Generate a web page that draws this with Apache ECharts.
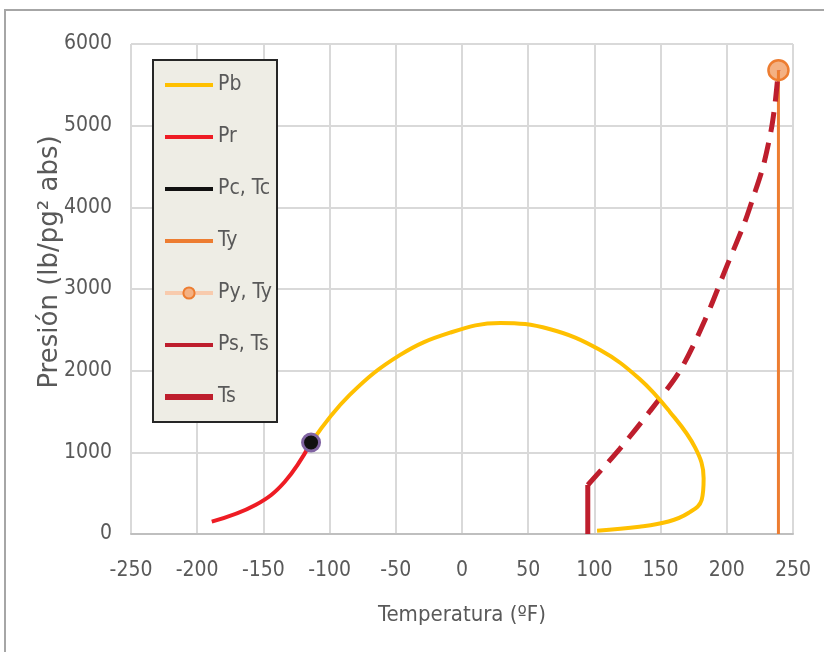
<!DOCTYPE html>
<html>
<head>
<meta charset="utf-8">
<script src="https://cdn.jsdelivr.net/npm/echarts@6/dist/echarts.min.js"></script>
<style>
html, body { margin: 0; padding: 0; background: #fff; }
#chart { width: 824px; height: 652px; }
</style>
</head>
<body>
<div id="chart"></div>
<script>
/*global echarts*/
const xTicks = [-250, -200, -150, -100, -50, 0, 50, 100, 150, 200, 250];
const yTicks = [0, 1000, 2000, 3000, 4000, 5000, 6000];

const legendNames = ['Pb', 'Pr', 'Pc, Tc', 'Ty', 'Py, Ty', 'Ps, Ts', 'Ts'];

// [temperatura, presion]
const pbCurve = [
    [-114, 1120], [-85, 1700], [-47, 2190], [-9, 2465], [29, 2585], [66, 2510],
    [104, 2255], [134, 1900], [157, 1495], [176, 1060], [182.5, 680], [181, 415],
    [171, 257], [156, 153], [134, 89], [102, 40]
];
const prCurve = [[-189, 151], [-156, 355], [-134, 637], [-114, 1120]];
const critPoint = [[-114, 1120]];
const tyLine = [[239, 0], [239, 5680]];
const pyTyPoint = [[239, 5680]];
const psTsCurve = [
    [95, 600], [119, 1040], [142, 1505], [165, 2010], [183.5, 2620], [200, 3280],
    [213, 3795], [220, 4125], [227.5, 4505], [233.5, 4945], [236.5, 5280], [239, 5680]
];
const tsLine = [[95, 0], [95, 600]];

const narrow = '"DejaVu Sans Condensed", "Liberation Sans Narrow", "Liberation Sans", sans-serif';
const gray = '#595959';

const lineIcon = (h) => `path://M0,0H48V${h}H0Z`;

const getXAxisOpt = () => ({
    type: 'value',
    min: xTicks[0],
    max: xTicks[xTicks.length - 1],
    interval: xTicks[1] - xTicks[0],
    name: 'Temperatura (ºF)',
    nameLocation: 'middle',
    nameGap: 70,
    nameTextStyle: { fontFamily: narrow, fontSize: 22, color: gray },
    axisTick: { show: false },
    axisLine: { show: true, lineStyle: { color: '#BFBFBF', width: 2 } },
    axisLabel: { fontFamily: narrow, fontSize: 21, color: gray, margin: 26 },
    splitLine: { show: true, lineStyle: { color: '#D9D9D9', width: 2 } }
});

const getYAxisOpt = () => ({
    type: 'value',
    min: yTicks[0],
    max: yTicks[yTicks.length - 1],
    interval: yTicks[1] - yTicks[0],
    name: 'Presión (lb/pg² abs)',
    nameLocation: 'middle',
    nameGap: 68,
    nameMoveOverlap: false,
    nameTextStyle: {
        fontFamily: '"DejaVu Sans", sans-serif', fontSize: 26, color: gray,
        padding: [0, 0, 0, 54]
    },
    axisTick: { show: false },
    axisLine: { show: false },
    axisLabel: {
        fontFamily: narrow, fontSize: 21, color: gray, margin: 19,
        formatter: (v) => String(v)
    },
    splitLine: { show: true, lineStyle: { color: '#D9D9D9', width: 2 } }
});

const option = {
    animation: false,
    backgroundColor: '#fff',
    grid: { left: 131, right: 31, top: 44, bottom: 118, outerBoundsMode: 'none' },
    xAxis: getXAxisOpt(),
    yAxis: getYAxisOpt(),
    graphic: [
        {
            type: 'rect', z: 100, silent: true,
            shape: { x: 5, y: 10, width: 840, height: 680 },
            style: { fill: 'none', stroke: '#A6A6A6', lineWidth: 2 }
        },
        {
            type: 'rect', z: 3, silent: true,
            shape: { x: 153, y: 60, width: 124, height: 362 },
            style: { fill: '#EEEDE5', stroke: '#262626', lineWidth: 2 }
        }
    ],
    legend: {
        orient: 'vertical',
        left: 153,
        top: 60,
        padding: [14, 10, 14, 10],
        itemWidth: 48,
        itemHeight: 14,
        itemGap: 30,
        selectedMode: false,
        z: 4,
        textStyle: { fontFamily: narrow, fontSize: 21, color: gray, lineHeight: 22 },
        data: [
            { name: legendNames[0], icon: lineIcon(4), itemStyle: { color: '#FFC000', borderWidth: 0 } },
            { name: legendNames[1], icon: lineIcon(4), itemStyle: { color: '#EE1C24', borderWidth: 0 } },
            { name: legendNames[2], icon: lineIcon(4), itemStyle: { color: '#111111', borderWidth: 0 } },
            { name: legendNames[3], icon: lineIcon(4), itemStyle: { color: '#ED7D31', borderWidth: 0 } },
            { name: legendNames[4], lineStyle: { width: 4, color: '#F8CBAD' } },
            { name: legendNames[5], icon: lineIcon(4), itemStyle: { color: '#BE1E2D', borderWidth: 0 } },
            { name: legendNames[6], icon: lineIcon(6), itemStyle: { color: '#BE1E2D', borderWidth: 0 } }
        ]
    },
    series: [
        {
            name: legendNames[4], type: 'line', data: pyTyPoint, z: 2,
            symbol: 'circle', symbolSize: 20, showSymbol: true,
            lineStyle: { color: '#F8CBAD', width: 4 },
            itemStyle: { color: '#F4B183', borderColor: '#ED7D31', borderWidth: 2.5 }
        },
        {
            name: legendNames[3], type: 'line', data: tyLine, z: 3,
            symbol: 'none', color: '#ED7D31', lineStyle: { width: 3 }
        },
        {
            name: legendNames[5], type: 'line', data: psTsCurve, z: 3,
            symbol: 'none', smooth: 0.3, color: '#BE1E2D',
            lineStyle: { width: 5, type: [20, 11] }
        },
        {
            name: legendNames[6], type: 'line', data: tsLine, z: 3,
            symbol: 'none', color: '#BE1E2D', lineStyle: { width: 5 }
        },
        {
            name: legendNames[0], type: 'line', data: pbCurve, z: 4,
            symbol: 'none', smooth: 0.4, color: '#FFC000', lineStyle: { width: 4 }
        },
        {
            name: legendNames[1], type: 'line', data: prCurve, z: 4,
            symbol: 'none', smooth: 0.4, color: '#EE1C24', lineStyle: { width: 4 }
        },
        {
            name: legendNames[2], type: 'line', data: critPoint, z: 5,
            symbol: 'circle', symbolSize: 17, showSymbol: true,
            color: '#111111',
            itemStyle: { color: '#111111', borderColor: '#8064A2', borderWidth: 3 }
        }
    ]
};

const myChart = echarts.init(document.getElementById('chart'));
myChart.setOption(option);
</script>
</body>
</html>
